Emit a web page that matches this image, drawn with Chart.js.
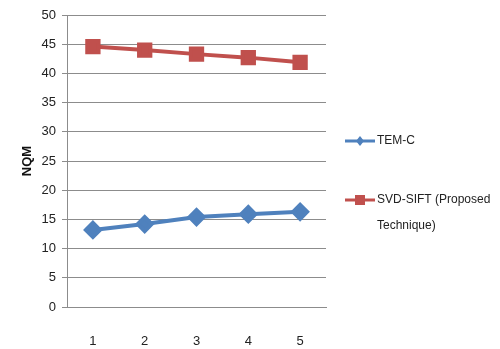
<!DOCTYPE html>
<html>
<head>
<meta charset="utf-8">
<script src="https://cdn.jsdelivr.net/npm/chart.js@4/dist/chart.umd.min.js"></script>
<style>
  html, body { margin: 0; padding: 0; background: #fff; }
  #wrap { width: 500px; height: 349px; position: relative; }
</style>
</head>
<body>
<div id="wrap"><canvas id="c" width="500" height="349"></canvas></div>
<script>
const categories = ['1', '2', '3', '4', '5'];
const temC = [13.2, 14.2, 15.4, 15.9, 16.3];
const svdSift = [44.6, 44.0, 43.3, 42.7, 41.9];
const seriesNames = ['TEM-C', ['SVD-SIFT (Proposed', 'Technique)']];
const yTicks = [0, 5, 10, 15, 20, 25, 30, 35, 40, 45, 50];

const FONT = "'Liberation Sans', Arial, sans-serif";
const BLUE = '#4F81BD';
const RED = '#C0504D';

// Legend drawn at the right of the plot, one entry per dataset
const sideLegend = {
  id: 'sideLegend',
  afterDraw(chart) {
    const ctx = chart.ctx;
    const rows = [141, 200];
    ctx.save();
    chart.data.datasets.forEach((ds, i) => {
      const y = rows[i];
      ctx.strokeStyle = ds.borderColor;
      ctx.lineWidth = 3;
      ctx.beginPath();
      ctx.moveTo(345, y);
      ctx.lineTo(375, y);
      ctx.stroke();
      ctx.fillStyle = ds.backgroundColor;
      if (ds.pointStyle === 'rectRot') {
        ctx.beginPath();
        ctx.moveTo(360, y - 5);
        ctx.lineTo(364, y);
        ctx.lineTo(360, y + 5);
        ctx.lineTo(356, y);
        ctx.closePath();
        ctx.fill();
      } else {
        ctx.fillRect(355, y - 5, 10, 10);
      }
      ctx.fillStyle = '#222';
      ctx.font = '12px ' + FONT;
      ctx.textBaseline = 'middle';
      const lines = Array.isArray(seriesNames[i]) ? seriesNames[i] : [seriesNames[i]];
      lines.forEach((t, k) => ctx.fillText(t, 377, y + k * 26));
    });
    ctx.restore();
  }
};

new Chart(document.getElementById('c'), {
  type: 'line',
  data: {
    labels: categories,
    datasets: [
      {
        label: 'TEM-C',
        data: temC,
        borderColor: BLUE,
        backgroundColor: BLUE,
        borderWidth: 4,
        pointStyle: 'rectRot',
        pointRadius: 7,
        pointHoverRadius: 7,
        tension: 0
      },
      {
        label: 'SVD-SIFT (Proposed Technique)',
        data: svdSift,
        borderColor: RED,
        backgroundColor: RED,
        borderWidth: 4,
        pointStyle: 'rect',
        pointRadius: 8,
        pointHoverRadius: 8,
        tension: 0
      }
    ]
  },
  options: {
    responsive: false,
    animation: false,
    devicePixelRatio: 1,
    layout: { padding: { left: 0, top: 15, right: 174, bottom: 0 } },
    plugins: {
      legend: { display: false },
      tooltip: { enabled: false }
    },
    scales: {
      x: {
        offset: true,
        grid: { display: false, drawTicks: false },
        border: { display: true, color: '#8c8c8c', width: 1 },
        ticks: { color: '#222', font: { family: FONT, size: 13 }, padding: 27 },
        afterFit(s) { s.height = 42; }
      },
      y: {
        min: 0,
        max: 50,
        afterBuildTicks(s) { s.ticks = yTicks.map(v => ({ value: v })); },
        grid: { color: '#8c8c8c', lineWidth: 1, tickLength: 5, drawTicks: true },
        border: { display: true, color: '#8c8c8c', width: 1 },
        ticks: { color: '#222', font: { family: FONT, size: 13 }, padding: 6 },
        title: {
          display: true,
          text: 'NQM',
          color: '#111',
          font: { family: FONT, size: 13, weight: 'bold' },
          padding: { top: 20, bottom: 4 }
        },
        afterFit(s) { s.width = 67; }
      }
    }
  },
  plugins: [sideLegend]
});
</script>
</body>
</html>
